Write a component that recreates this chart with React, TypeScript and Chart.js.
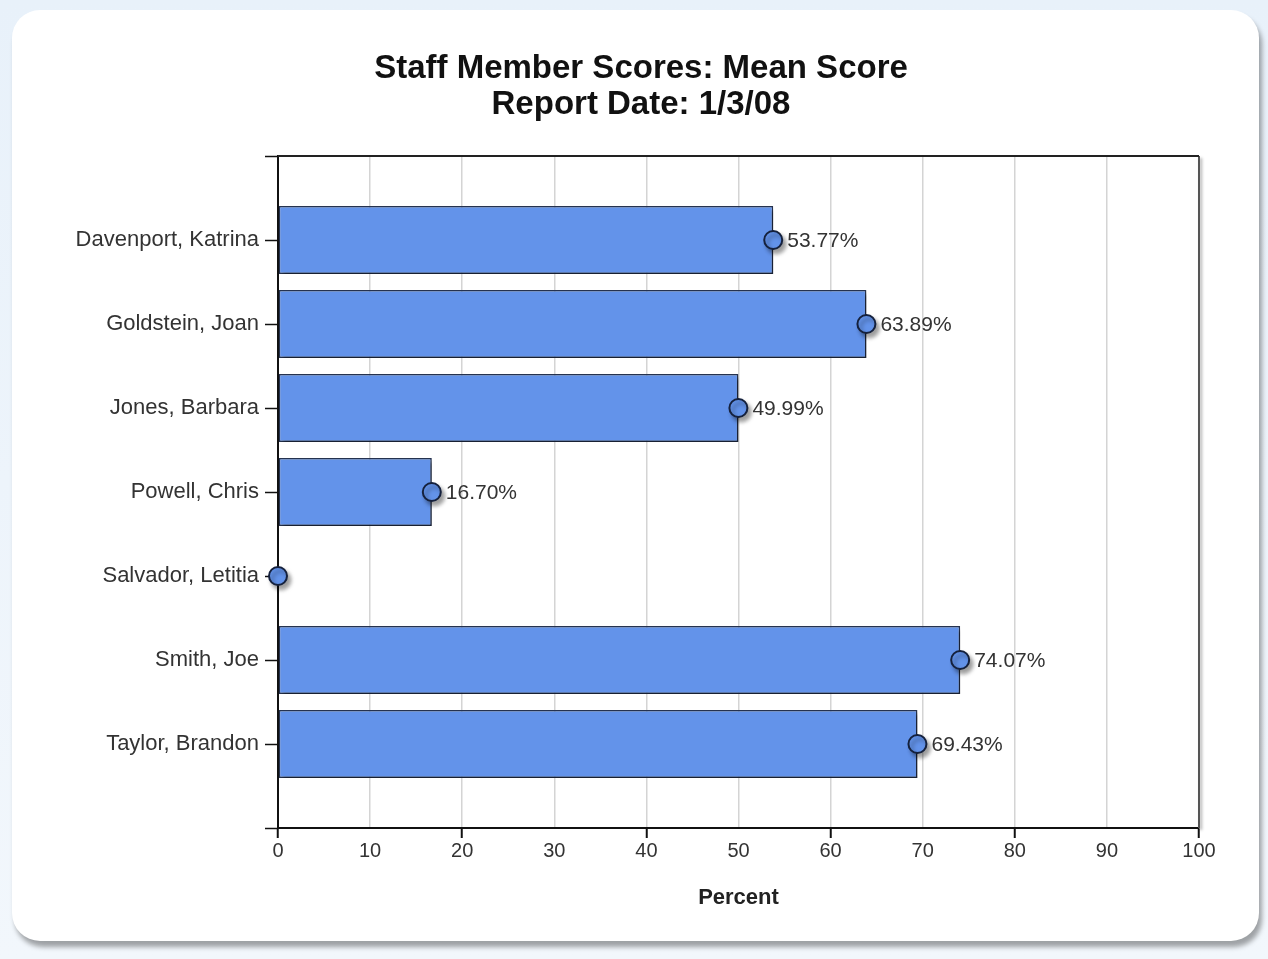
import React, { useEffect, useRef } from 'react';
import { Chart, registerables } from 'chart.js';

Chart.register(...registerables);

// ---- data ----
const staffNames = [
  'Davenport, Katrina',
  'Goldstein, Joan',
  'Jones, Barbara',
  'Powell, Chris',
  'Salvador, Letitia',
  'Smith, Joe',
  'Taylor, Brandon',
];
const meanScores = [53.77, 63.89, 49.99, 16.7, 0, 74.07, 69.43];
const chartTitle = ['Staff Member Scores: Mean Score', 'Report Date: 1/3/08'];
const xAxisTitle = 'Percent';
const xMin = 0;
const xMax = 100;
const xStep = 10;

const FONT = "'Liberation Sans', Arial, Helvetica, sans-serif";
const BAR_FILL = '#6393ea';
const BAR_EDGE = '#263350';
const MARK_EDGE = '#15213d';

const CARD_W = 1247;
const CARD_H = 931;

const shadowPlugin = {
  id: 'shadowPlugin',
  beforeDatasetsDraw(chart: any) {
    const ctx = chart.ctx;
    ctx.save();
    ctx.shadowColor = 'rgba(0,0,0,0.38)';
    ctx.shadowOffsetX = 3;
    ctx.shadowOffsetY = 4;
    ctx.shadowBlur = 4;
  },
  afterDatasetsDraw(chart: any) {
    chart.ctx.restore();
  },
};

const framePlugin = {
  id: 'framePlugin',
  beforeDatasetsDraw(chart: any) {
    const { ctx, chartArea } = chart;
    const { left, right, top, bottom } = chartArea;
    ctx.save();
    ctx.shadowColor = 'rgba(0,0,0,0.35)';
    ctx.shadowOffsetX = 2;
    ctx.shadowOffsetY = 2;
    ctx.shadowBlur = 3;
    ctx.strokeStyle = '#555';
    ctx.lineWidth = 2;
    ctx.beginPath();
    ctx.moveTo(right, top);
    ctx.lineTo(right, bottom);
    ctx.stroke();
    ctx.shadowColor = 'transparent';
    ctx.strokeStyle = '#222';
    ctx.lineWidth = 2;
    ctx.beginPath();
    ctx.moveTo(left, top);
    ctx.lineTo(right, top);
    ctx.stroke();
    ctx.restore();
  },
};

const valueLabelPlugin = {
  id: 'valueLabelPlugin',
  afterDatasetsDraw(chart: any) {
    const ctx = chart.ctx;
    const meta = chart.getDatasetMeta(0);
    const data = chart.data.datasets[0].data;
    ctx.save();
    ctx.font = `21px ${FONT}`;
    ctx.fillStyle = '#333';
    ctx.textAlign = 'left';
    ctx.textBaseline = 'middle';
    meta.data.forEach((pt: any, i: number) => {
      const v = data[i];
      if (v === null || v === undefined || v === 0) return;
      ctx.fillText(`${Number(v).toFixed(2)}%`, pt.x + 14, pt.y + 1);
    });
    ctx.restore();
  },
};

export default function App() {
  const canvasRef = useRef<HTMLCanvasElement | null>(null);

  useEffect(() => {
    if (!canvasRef.current) return;
    const labels = ['', ...staffNames, ''];
    const padded = [null, ...meanScores, null];

    const chart = new Chart(canvasRef.current, {
      type: 'bar',
      data: {
        labels,
        datasets: [
          {
            type: 'line',
            label: 'marker',
            data: padded as any,
            showLine: false,
            clip: false,
            pointRadius: 9,
            pointHoverRadius: 9,
            pointBackgroundColor: BAR_FILL,
            pointBorderColor: MARK_EDGE,
            pointBorderWidth: 2,
            order: 0,
          } as any,
          {
            type: 'bar',
            label: 'Mean Score',
            data: padded as any,
            backgroundColor: BAR_FILL,
            borderColor: BAR_EDGE,
            borderWidth: 1.5,
            borderSkipped: false,
            categoryPercentage: 1,
            barPercentage: 0.81,
            order: 1,
          } as any,
        ],
      },
      options: {
        indexAxis: 'y',
        responsive: false,
        animation: false,
        events: [],
        layout: { padding: { left: 11, right: 0, top: 0, bottom: 0 } },
        plugins: {
          legend: { display: false },
          tooltip: { enabled: false },
          title: {
            display: true,
            text: chartTitle,
            color: '#111',
            font: { family: FONT, size: 33, weight: 'bold', lineHeight: 36 / 33 },
            padding: { top: 41, bottom: 33 },
          },
        },
        scales: {
          x: {
            type: 'linear',
            position: 'bottom',
            min: xMin,
            max: xMax,
            afterFit(scale: any) {
              scale.height = 113;
            },
            ticks: {
              stepSize: xStep,
              color: '#333',
              padding: 1,
              font: { family: FONT, size: 20 },
            },
            grid: {
              color: (c: any) =>
                c.tick && (c.tick.value === xMin || c.tick.value === xMax) ? 'transparent' : '#d4d4d4',
              lineWidth: 1.5,
              tickLength: 10,
              tickWidth: 2,
              tickColor: (c: any) => (c.tick && c.tick.value % 20 === 0 ? '#111' : 'transparent'),
            },
            border: { display: true, color: '#111', width: 2 },
            title: {
              display: true,
              text: xAxisTitle,
              color: '#222',
              font: { family: FONT, size: 22, weight: 'bold', lineHeight: 1.2 },
              padding: { top: 0, bottom: 30 },
            },
          },
          y: {
            type: 'category',
            position: 'left',
            offset: false,
            afterFit(scale: any) {
              scale.width = 255;
            },
            ticks: {
              color: '#333',
              padding: 6,
              font: { family: FONT, size: 22 },
              autoSkip: false,
            },
            grid: {
              offset: false,
              drawOnChartArea: false,
              drawTicks: true,
              tickLength: 13,
              tickWidth: 1.5,
              tickColor: '#111',
            },
            border: { display: true, color: '#111', width: 2 },
          },
          yRight: {
            type: 'category',
            position: 'right',
            offset: false,
            afterFit(scale: any) {
              scale.width = 60;
            },
            ticks: { display: false },
            grid: { display: false, drawTicks: false },
            border: { display: false },
          },
        },
      } as any,
      plugins: [framePlugin, shadowPlugin, valueLabelPlugin],
    });
    return () => chart.destroy();
  }, []);

  return (
    <div
      style={{
        position: 'absolute',
        left: 0,
        top: 0,
        width: 1268,
        height: 959,
        background: 'linear-gradient(#e8f1fa, #f2f7fc)',
        overflow: 'hidden',
      }}
    >
      <div
        style={{
          position: 'absolute',
          left: 12,
          top: 10,
          width: CARD_W,
          height: CARD_H,
          background: '#ffffff',
          borderRadius: 28,
          boxShadow: '3px 6px 5px rgba(0,0,0,0.35)',
          overflow: 'hidden',
        }}
      >
        <canvas ref={canvasRef} width={CARD_W} height={CARD_H} style={{ display: 'block' }} />
      </div>
    </div>
  );
}
